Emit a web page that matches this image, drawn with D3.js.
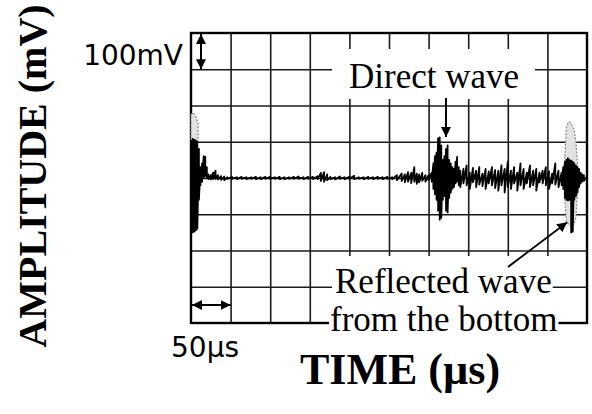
<!DOCTYPE html>
<html>
<head>
<meta charset="utf-8">
<script src="https://cdn.jsdelivr.net/npm/d3@7"></script>
<style>
  html, body { margin: 0; padding: 0; background: #fff; }
  svg { display: block; }
</style>
</head>
<body>
<div id="chart"></div>
<script>
// oscilloscope trace: time (µs), upper and lower excursion (mV)
const timeUs = [
  0, 2, 4, 6, 8, 10, 12, 14, 16, 18, 20, 22, 25, 28, 31, 34, 38, 42,
  46, 52, 58, 64, 70, 76, 82, 88, 94, 100, 106, 112, 118, 124, 130, 136, 142, 148, 154,
  160, 164, 168, 172, 176, 182, 188, 194, 200, 206, 212, 218, 224, 230, 236, 242, 248, 254,
  260, 266, 270, 274, 278, 282, 285, 288, 292, 296, 300,
  304, 306, 308, 310, 312, 314, 316, 318, 320, 322, 324, 326, 328, 330, 332, 334, 336, 338, 340,
  344, 348, 352, 356, 360, 364, 368, 372, 376, 380, 384, 388, 392, 396, 400, 404, 408, 412,
  416, 420, 424, 428, 432, 436, 440, 444, 448, 452, 456, 460, 464, 468,
  470, 472, 474, 476, 478, 480, 482, 484, 486, 488, 490, 492, 494, 496, 500
];
const upperMv = [
  105, 108, 106, 104, 100, 80, 30, 40, 60, 58, 30, 10, 8, 15, 20, 8, 5, 4,
  2, 3, 2, 3, 2, 2, 3, 2, 3, 3, 2, 3, 2, 2, 3, 4, 2, 3, 3,
  5, 14, 16, 10, 3, 2, 4, 2, 3, 6, 2, 2, 3, 2, 3, 2, 3, 2,
  8, 12, 10, 16, 14, 30, 12, 10, 14, 8, 8,
  15, 40, 60, 70, 110, 112, 90, 50, 60, 80, 90, 50, 40, 30, 25, 45, 58, 30, 20,
  25, 35, 15, 28, 20, 30, 12, 25, 18, 30, 22, 20, 35, 25, 45, 20, 30, 15,
  40, 25, 15, 35, 20, 25, 15, 20, 30, 18, 12, 40, 20, 15,
  30, 45, 50, 55, 50, 48, 45, 40, 35, 30, 25, 15, 10, 8, 5
];
const lowerMv = [
  -150, -150, -148, -145, -140, -60, -20, -10, 0, 5, 0, -3, -4, -3, -2, -4, -5, -6,
  -2, -2, -3, -2, -3, -2, -3, -3, -2, -2, -2, -3, -3, -2, -2, -2, -3, -2, -3,
  -3, -8, -10, -6, -3, -4, -2, -3, -2, -3, -2, -3, -2, -3, -2, -3, -2, -3,
  -6, -8, -12, -10, -14, -10, -16, -12, -8, -10, -6,
  -10, -30, -45, -60, -90, -115, -110, -60, -50, -90, -95, -55, -40, -30, -25, -15, -10, -20, -25,
  -15, -20, -30, -12, -25, -18, -22, -30, -15, -20, -28, -35, -20, -40, -25, -30, -15, -35,
  -20, -30, -15, -25, -20, -35, -12, -15, -20, -30, -15, -18, -25, -20,
  -30, -55, -60, -62, -60, -150, -148, -60, -50, -40, -25, -15, -10, -8, -5
];

// lighter persistence traces (initial burst and reflected wave)
const ghostTimeUs = [0, 3, 6, 9, null, 472, 474, 476, 478, 480, 482, 484, 486, 488];
const ghostUpperMv = [175, 180, 170, 150, null, 60, 140, 150, 155, 150, 140, 130, 100, 40];
const ghostLowerMv = [100, 100, 100, 100, null, -60, -120, -125, -130, -135, -130, -125, -110, -40];

const width = 592;
const height = 414;
const plot = { left: 191, right: 587, top: 33, bottom: 323 };

const x = d3.scaleLinear().domain([0, 500]).range([plot.left, plot.right]);
const y = d3.scaleLinear().domain([-400, 400]).range([plot.bottom, plot.top]);

const svg = d3.select("#chart").append("svg")
  .attr("width", width)
  .attr("height", height);

svg.append("defs").append("marker")
  .attr("id", "head")
  .attr("viewBox", "0 0 10 10")
  .attr("refX", 10).attr("refY", 5)
  .attr("markerWidth", 10).attr("markerHeight", 10)
  .attr("markerUnits", "userSpaceOnUse")
  .attr("orient", "auto-start-reverse")
  .append("path")
  .attr("d", "M0,0 L10,5 L0,10 Z")
  .attr("fill", "#000");

// grid via axes
const gridX = svg.append("g")
  .attr("transform", `translate(0,${plot.top})`)
  .call(d3.axisBottom(x).tickValues(d3.range(50, 500, 50))
    .tickSize(plot.bottom - plot.top).tickSizeOuter(0).tickFormat(""));
gridX.select(".domain").remove();

const gridY = svg.append("g")
  .attr("transform", `translate(${plot.left},0)`)
  .call(d3.axisRight(y).tickValues(d3.range(-300, 400, 100))
    .tickSize(plot.right - plot.left).tickSizeOuter(0).tickFormat(""));
gridY.select(".domain").remove();

svg.selectAll(".tick line")
  .attr("stroke", "#1a1a1a")
  .attr("stroke-width", 1.6);

// frame
svg.append("rect")
  .attr("x", plot.left).attr("y", plot.top)
  .attr("width", plot.right - plot.left)
  .attr("height", plot.bottom - plot.top)
  .attr("fill", "none")
  .attr("stroke", "#000")
  .attr("stroke-width", 2.4);

// ghost (persistence) envelope
const ghostData = ghostTimeUs.map((t, i) => ({ t, hi: ghostUpperMv[i], lo: ghostLowerMv[i] }));
const area = d3.area()
  .defined((d) => d.t !== null)
  .x((d) => x(d.t))
  .y0((d) => y(d.lo))
  .y1((d) => y(d.hi));

svg.append("path")
  .datum(ghostData)
  .attr("d", area)
  .attr("fill", "#e2e2e2")
  .attr("stroke", "#8a8a8a")
  .attr("stroke-width", 1.2)
  .attr("stroke-dasharray", "2,1.5");

// main trace drawn as a zig-zag between upper and lower excursion
const zig = [];
timeUs.forEach((t, i) => {
  zig.push({ t, v: upperMv[i] });
  zig.push({ t, v: lowerMv[i] });
});

svg.append("path")
  .datum(zig)
  .attr("d", d3.line().x((d) => x(d.t)).y((d) => y(d.v)))
  .attr("fill", "none")
  .attr("stroke", "#000")
  .attr("stroke-width", 1.8)
  .attr("stroke-linejoin", "round");

// labels with white backing (they hide the grid)
function label(text, tx, ty, pad) {
  const g = svg.append("g");
  const rect = g.append("rect").attr("fill", "#fff");
  const t = g.append("text")
    .attr("x", tx).attr("y", ty)
    .attr("font-family", "'Liberation Serif', 'Times New Roman', serif")
    .attr("font-size", 35)
    .attr("fill", "#000")
    .text(text);
  const b = t.node().getBBox();
  rect.attr("x", b.x - pad[3]).attr("y", b.y - pad[0])
    .attr("width", b.width + pad[1] + pad[3])
    .attr("height", b.height + pad[0] + pad[2]);
}

label("Direct wave", 349, 88, [8, 16, 3, 17]);
label("Reflected wave", 335, 293, [6, 1, 0, 3]);
label("from the bottom", 330, 331, [0, 1, 10, 1]);

// annotation arrows
svg.append("line")
  .attr("x1", x(322)).attr("y1", 98)
  .attr("x2", x(322)).attr("y2", y(113))
  .attr("stroke", "#000").attr("stroke-width", 2)
  .attr("marker-end", "url(#head)");

svg.append("line")
  .attr("x1", 508).attr("y1", 267)
  .attr("x2", x(475)).attr("y2", y(-122))
  .attr("stroke", "#000").attr("stroke-width", 1.8)
  .attr("marker-end", "url(#head)");

// scale markers: 100 mV and 50 µs
svg.append("line")
  .attr("x1", 201).attr("y1", y(400) + 1)
  .attr("x2", 201).attr("y2", y(300))
  .attr("stroke", "#000").attr("stroke-width", 2)
  .attr("marker-start", "url(#head)")
  .attr("marker-end", "url(#head)");

svg.append("line")
  .attr("x1", x(0) + 1).attr("y1", 305)
  .attr("x2", x(50)).attr("y2", 305)
  .attr("stroke", "#000").attr("stroke-width", 2)
  .attr("marker-start", "url(#head)")
  .attr("marker-end", "url(#head)");

svg.append("text")
  .attr("x", 183).attr("y", 65)
  .attr("text-anchor", "end")
  .attr("font-family", "'DejaVu Sans', sans-serif")
  .attr("font-size", 28)
  .text("100mV");

svg.append("text")
  .attr("x", 171).attr("y", 357)
  .attr("font-family", "'DejaVu Sans', sans-serif")
  .attr("font-size", 28)
  .text("50µs");

// axis titles
svg.append("text")
  .attr("x", 400).attr("y", 384)
  .attr("text-anchor", "middle")
  .attr("font-family", "'Liberation Serif', 'Times New Roman', serif")
  .attr("font-weight", "bold")
  .attr("font-size", 44)
  .text("TIME (µs)");

svg.append("text")
  .attr("transform", "translate(46,176) rotate(-90)")
  .attr("text-anchor", "middle")
  .attr("font-family", "'Liberation Serif', 'Times New Roman', serif")
  .attr("font-weight", "bold")
  .attr("font-size", 40)
  .text("AMPLITUDE (mV)");
</script>
</body>
</html>
